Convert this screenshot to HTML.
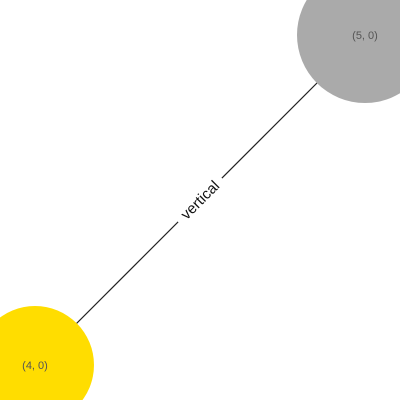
<!DOCTYPE html>
<html>
<head>
<meta charset="utf-8">
<style>
html,body{margin:0;padding:0;background:#fff;width:400px;height:400px;overflow:hidden;}
svg{display:block;font-family:"Liberation Sans",sans-serif;}
</style>
</head>
<body>
<svg id="chart" width="400" height="400" viewBox="0 0 400 400"></svg>
<script>
const nodeLabels = ["(4, 0)", "(5, 0)"];
const nodeX = [35, 365];
const nodeY = [365, 35];
const nodeR = [59, 68];
const nodeColors = ["#ffdd00", "#aaaaaa"];
const edgeLabels = ["vertical"];
const edgeFrom = [0];
const edgeTo = [1];

const NS = "http://www.w3.org/2000/svg";
const svg = document.getElementById("chart");
function mk(tag, attrs) {
  const e = document.createElementNS(NS, tag);
  for (const k in attrs) e.setAttribute(k, attrs[k]);
  return e;
}
edgeFrom.forEach((f, i) => {
  const t = edgeTo[i];
  const x1 = nodeX[f], y1 = nodeY[f], x2 = nodeX[t], y2 = nodeY[t];
  const line = mk("line", {x1, y1, x2, y2, stroke: "#222", "stroke-width": 1.2});
  
  
  svg.appendChild(line);
  const mx = (x1 + x2) / 2, my = (y1 + y2) / 2;
  const ang = Math.atan2(y2 - y1, x2 - x1) * 180 / Math.PI;
  const g = mk("g", {transform: `translate(${mx},${my}) rotate(${ang})`});
  
  
  const bg = mk("rect", {x: -31, y: -9, width: 62, height: 18, fill: "#fff"});
  g.appendChild(bg);
  const tx = mk("text", {x: 0, y: 5, "text-anchor": "middle", "font-size": 15, fill: "#111"});
  tx.textContent = edgeLabels[i];
  g.appendChild(tx);
  svg.appendChild(g);
});
nodeLabels.forEach((lab, i) => {
  const c = mk("circle", {cx: nodeX[i], cy: nodeY[i], r: nodeR[i], fill: nodeColors[i]});
  
  
  svg.appendChild(c);
  const t = mk("text", {x: nodeX[i], y: nodeY[i] + 4, "text-anchor": "middle", "font-size": 11, fill: "#555"});
  
  
  t.textContent = lab;
  svg.appendChild(t);
});
</script>
</body>
</html>
